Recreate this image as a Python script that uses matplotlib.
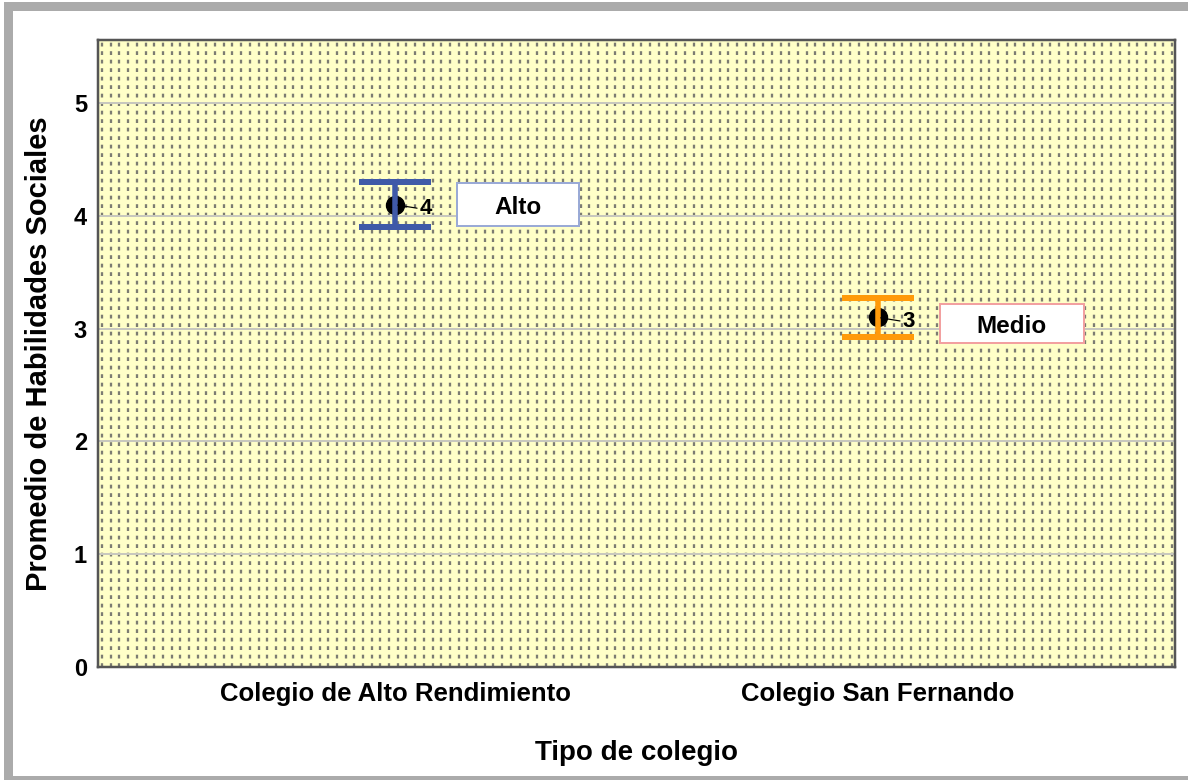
import numpy as np
import matplotlib
matplotlib.use("Agg")
import matplotlib.pyplot as plt
from matplotlib.patches import Rectangle
from matplotlib.offsetbox import DrawingArea, AnnotationBbox
from matplotlib.text import Text

plt.rcParams['font.family'] = ['Liberation Sans', 'DejaVu Sans']
plt.rcParams['lines.scale_dashes'] = False

categories = ["Colegio de Alto Rendimiento", "Colegio San Fernando"]
means = [4.10, 3.10]
ci_low = [3.90, 2.93]
ci_high = [4.30, 3.27]
value_labels = ["4", "3"]
level_labels = ["Alto", "Medio"]
bar_colors = ["#3F59A8", "#FF9A0A"]
box_edges = ["#9AAAD6", "#F2A0A0"]
box_widths_px = [122, 144]
box_heights_px = [43, 39]

W, H = 1188, 780
fig = plt.figure(figsize=(W / 100, H / 100), dpi=100)
px = 0.72  # points per pixel

# outer gray frame
fig.patches.append(Rectangle((7.5 / W, 0.0 / H), (1196 - 7.5) / W, (774 - 0) / H,
                             transform=fig.transFigure, fill=False,
                             edgecolor="#ABABAB", linewidth=9 * px, zorder=0))

ax = fig.add_axes([98 / W, (H - 667) / H, (1175 - 98) / W, (667 - 40) / H])
ax.set_facecolor("#FFFFC8")
ax.set_xlim(-0.615, 1.615)
ax.set_ylim(0, 5.56)

# dotted vertical pattern
for xf in np.arange(4 / 1077, 1, 8.7 / 1077):
    ax.plot([xf, xf], [0, 1], transform=ax.transAxes, color="#7C7C72",
            linewidth=2.3 * px, linestyle=(0, (3.8 * px, 4.7 * px)), zorder=0.5,
            solid_capstyle='butt', dash_capstyle='butt')

# horizontal grid
for yv in range(1, 6):
    ax.axhline(yv, color="#C8C8BE", linewidth=2 * px, zorder=0.8)

xs = np.arange(len(categories))
for i in range(len(categories)):
    ax.plot(xs[i], means[i], 'o', color='black', markersize=18 * px, zorder=3)
    ax.errorbar(xs[i], means[i],
                yerr=[[means[i] - ci_low[i]], [ci_high[i] - means[i]]],
                fmt='none', ecolor=bar_colors[i], elinewidth=5.5 * px,
                capsize=36 * px, capthick=6 * px, zorder=4)
    # value label with leader line
    ax.annotate(value_labels[i], xy=(xs[i], means[i]),
                xytext=(31 * px, -4 * px), textcoords='offset points',
                ha='center', va='center', fontsize=16, fontweight='bold',
                arrowprops=dict(arrowstyle='-', color='black', lw=1.2 * px,
                                shrinkA=0, shrinkB=2,
                                relpos=(0, 0.5)),
                zorder=5)
    # level box
    wpt = box_widths_px[i] * px
    hpt = box_heights_px[i] * px
    da = DrawingArea(wpt, hpt, 0, 0)
    da.add_artist(Rectangle((0, 0), wpt, hpt, facecolor='white',
                            edgecolor=box_edges[i], linewidth=2 * px))
    da.add_artist(Text(wpt / 2, hpt / 2 - 2, level_labels[i], ha='center', va='center',
                       fontsize=17.5, fontweight='bold', color='black',
                       family=['Liberation Sans', 'DejaVu Sans']))
    dy = 0 if i == 0 else -6.5
    ab = AnnotationBbox(da, (xs[i], means[i]), xybox=(62 * px, dy * px),
                        xycoords='data', boxcoords='offset points',
                        box_alignment=(0, 0.5), frameon=False, pad=0, zorder=6)
    ax.add_artist(ab)

ax.set_xticks(xs)
ax.set_xticklabels(categories, fontsize=18.5, fontweight='bold')
ax.set_yticks(range(0, 6))
ax.set_yticklabels([str(v) for v in range(0, 6)], fontsize=17, fontweight='bold')
ax.tick_params(axis='both', length=0)
ax.tick_params(axis='x', pad=11)
ax.tick_params(axis='y', pad=8)

ax.set_xlabel("Tipo de colegio", fontsize=20, fontweight='bold', labelpad=24)
ax.set_ylabel("Promedio de Habilidades Sociales", fontsize=21, fontweight='bold', labelpad=15)

for s in ax.spines.values():
    s.set_color("#555555")
    s.set_linewidth(2.5 * px)

fig.savefig("out.png", dpi=100)
